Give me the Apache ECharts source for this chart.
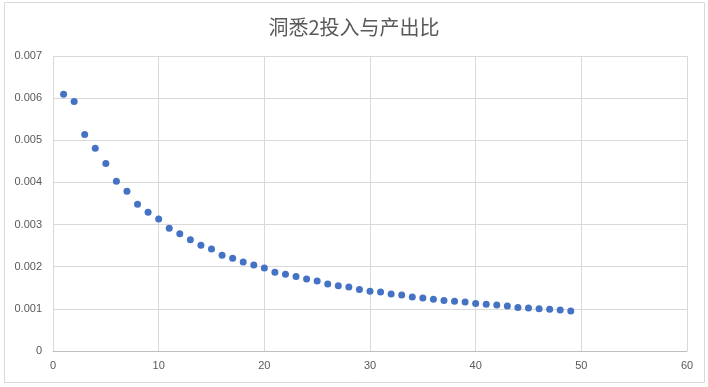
<!DOCTYPE html>
<html><head><meta charset="utf-8">
<script src="https://cdn.jsdelivr.net/npm/echarts@6/dist/echarts.min.js"></script>
<style>html,body{margin:0;padding:0;background:#fff}#c{width:708px;height:387px}</style>
</head><body><div id="c"></div>
<script>
const titleText = '洞悉2投入与产出比';
const xValues = [1,2,3,4,5,6,7,8,9,10,11,12,13,14,15,16,17,18,19,20,21,22,23,24,25,26,27,28,29,30,31,32,33,34,35,36,37,38,39,40,41,42,43,44,45,46,47,48,49];
const yValues = [0.00609,0.00592,0.00514,0.00481,0.00445,0.00403,0.00379,0.00348,0.00329,0.00313,0.00291,0.00278,0.00264,0.00251,0.00242,0.00227,0.00220,0.00211,0.00204,0.00197,0.00187,0.00182,0.00177,0.00171,0.00166,0.00159,0.00155,0.00152,0.00146,0.00142,0.00140,0.00135,0.00133,0.00128,0.00126,0.00123,0.00120,0.00118,0.00116,0.00113,0.00111,0.00109,0.00107,0.00103,0.00102,0.00100,0.00099,0.00097,0.00095];
const data = xValues.map((x, i) => [x, yValues[i]]);
const chart = echarts.init(document.getElementById('c'), null, {renderer: 'canvas'});
chart.setOption({
  animation: false,
  title: {text: titleText, left: 'center', top: 12,
    textStyle: {fontFamily: 'Noto Sans CJK SC', fontSize: 20, fontWeight: 'normal', color: '#595959'}},
  graphic: [{type: 'rect', shape: {x: 4.5, y: 2.5, width: 700, height: 380}, style: {fill: 'none', stroke: '#d9d9d9', lineWidth: 1}, silent: true, z: -1}],
  grid: {left: 53, right: 21, top: 56, bottom: 36},
  xAxis: {type: 'value', min: 0, max: 60, interval: 10,
    axisLine: {show: true, lineStyle: {color: '#bfbfbf'}}, axisTick: {show: false},
    splitLine: {show: true, lineStyle: {color: '#d9d9d9'}},
    axisLabel: {color: '#595959', fontSize: 11, fontFamily: 'Liberation Sans', margin: 9}},
  yAxis: {type: 'value', min: 0, max: 0.007, interval: 0.001,
    axisLine: {show: false}, axisTick: {show: false},
    splitLine: {show: true, lineStyle: {color: '#d9d9d9'}},
    axisLabel: {color: '#595959', fontSize: 11, fontFamily: 'Liberation Sans', margin: 11,
      formatter: v => v === 0 ? '0' : v.toFixed(3)}},
  series: [{type: 'scatter', data: data, symbolSize: 7, itemStyle: {color: '#4472c4', opacity: 1}}]
});
</script></body></html>
